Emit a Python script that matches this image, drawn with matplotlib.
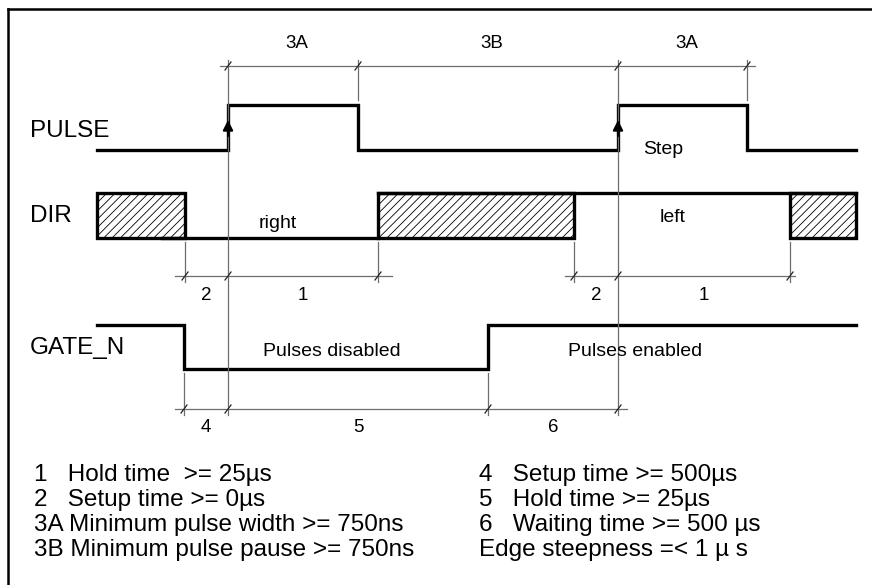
import matplotlib.pyplot as plt
from matplotlib.patches import Rectangle

plt.rcParams['font.family'] = ['Liberation Sans', 'DejaVu Sans']
plt.rcParams['hatch.linewidth'] = 0.6

# signal edges (pixel positions along the time axis)
t_start, t_end = 97, 856
pulse_edges = [228, 358, 618, 747]          # starts low
gate_edges = [184, 488]                     # starts high
dir_undefined = [(97, 185), (378, 574), (790, 856)]
dir_low = (162, 378)
dir_high = (378, 856)

# signal levels (high, low)
pulse_lv = (105, 150)
dir_lv = (193, 238)
gate_lv = (325, 369)

signal_names = ["PULSE", "DIR", "GATE_N"]

# dimension rows: (y, node positions, labels, extent)
dim_rows = [
    (66, [228, 358, 618, 747], ["3A", "3B", "3A"], (220, 755)),
    (276, [185, 228, 378], ["2", "1"], (175, 392)),
    (276, [574, 618, 790], ["2", "1"], (565, 795)),
    (409, [184, 228, 488, 618], ["4", "5", "6"], (175, 627)),
]

legend_left = ["1   Hold time  >= 25µs",
               "2   Setup time >= 0µs",
               "3A Minimum pulse width >= 750ns",
               "3B Minimum pulse pause >= 750ns"]
legend_right = ["4   Setup time >= 500µs",
                "5   Hold time >= 25µs",
                "6   Waiting time >= 500 µs",
                "Edge steepness =< 1 µ s"]

fig = plt.figure(figsize=(8.72, 5.85), dpi=100)
ax = fig.add_axes([0, 0, 1, 1])
ax.set_xlim(0, 872)
ax.set_ylim(585, 0)
ax.axis('off')

# frame (top and left only)
ax.plot([8, 872], [9, 9], color='black', lw=1.8)
ax.plot([8, 8], [9, 585], color='black', lw=1.8)


def step_wave(edges, lv, start_high):
    xs, ys = [t_start], []
    level = start_high
    ys.append(lv[0] if level else lv[1])
    for e in edges:
        xs += [e, e]
        ys += [ys[-1], lv[1] if level else lv[0]]
        level = not level
    xs.append(t_end)
    ys.append(ys[-1])
    return xs, ys


px, py = step_wave(pulse_edges, pulse_lv, False)
ax.plot(px, py, color='black', lw=2.4, solid_joinstyle='miter')
gx, gy = step_wave(gate_edges, gate_lv, True)
ax.plot(gx, gy, color='black', lw=2.4, solid_joinstyle='miter')

# arrows on rising edges of PULSE
for e in pulse_edges[::2]:
    ax.annotate('', xy=(e, 120), xytext=(e, 136),
                arrowprops=dict(arrowstyle='-|>', color='black', lw=1.5,
                                mutation_scale=15, shrinkA=0, shrinkB=0))

# DIR
ax.plot(dir_low, [dir_lv[1]] * 2, color='black', lw=2.4)
ax.plot(dir_high, [dir_lv[0]] * 2, color='black', lw=2.4)
for a, b in dir_undefined:
    ax.add_patch(Rectangle((a, dir_lv[0]), b - a, dir_lv[1] - dir_lv[0],
                           facecolor='white', edgecolor='black', lw=2.4,
                           hatch='////', joinstyle='miter'))

# extension lines
thin = dict(color='#6e6e6e', lw=0.9)
for x in [228, 618]:
    ax.plot([x, x], [60, 415], **thin)
for x in [358, 747]:
    ax.plot([x, x], [60, 100], **thin)
for x in [185, 378, 574, 790]:
    ax.plot([x, x], [242, 282], **thin)
for x in gate_edges:
    ax.plot([x, x], [373, 415], **thin)

# dimension lines with slash ticks
for y, nodes, labels, (x0, x1) in dim_rows:
    ax.plot([x0, x1], [y, y], **thin)
    for n in nodes:
        ax.plot([n - 3, n + 3], [y + 4, y - 4], color='#222222', lw=0.9)
    for i, lab in enumerate(labels):
        mid = (nodes[i] + nodes[i + 1]) / 2
        if y < 100:
            ax.text(mid + 4, y - 23, lab, ha='center', va='center', fontsize=13.5)
        else:
            ax.text(mid, y + 19, lab, ha='center', va='center', fontsize=13.5)

# signal names
for name, lv in zip(signal_names, [(110, 150), (193, 238), (325, 369)]):
    ax.text(30, (lv[0] + lv[1]) / 2 + 1, name, ha='left', va='center',
            fontsize=17.5)

# annotations in the diagram
ax.text(278, 223, "right", ha='center', va='center', fontsize=14)
ax.text(673, 218, "left", ha='center', va='center', fontsize=14)
ax.text(663, 149, "Step", ha='center', va='center', fontsize=14)
ax.text(332, 351, "Pulses disabled", ha='center', va='center', fontsize=14)
ax.text(635, 351, "Pulses enabled", ha='center', va='center', fontsize=14)

# legend text
for i, line in enumerate(legend_left):
    ax.text(34, 475 + 25 * i, line, ha='left', va='center', fontsize=17.5)
for i, line in enumerate(legend_right):
    ax.text(479, 475 + 25 * i, line, ha='left', va='center', fontsize=17.5)

plt.savefig('out.png', dpi=100)
